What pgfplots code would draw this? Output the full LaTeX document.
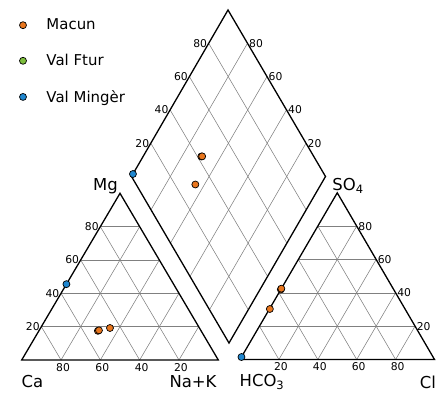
\documentclass[border=0pt]{standalone}
\usepackage{fontspec}
\setmainfont{DejaVu Sans}
\usepackage{pgfplots}
\usepackage{pgfplotstable}
\pgfplotsset{compat=1.18}
\definecolor{cOr}{HTML}{E8761E}
\definecolor{cGr}{HTML}{7DBE3C}
\definecolor{cBl}{HTML}{1F87D0}
\definecolor{cGrid}{HTML}{808080}
\tikzset{
  grid line/.style={cGrid, line width=0.55bp},
  frame line/.style={black, line width=1.3bp, line join=miter},
}

% samples: cations (Ca, Mg, Na+K) and anions (HCO3, Cl, SO4) in percent
\pgfplotstableread{
Ca Mg NaK HCO Cl SO
52.5 17.5 30.0 58.0 0.0 42.0
51.8 17.8 30.4 57.5 0.0 42.5
45.5 19.2 35.3 69.5 0.2 30.3
}\macun
\pgfplotstableread{
Ca Mg NaK HCO Cl SO
54.5 45.5 0.0 98.5 0.0 1.5
}\minger

% geometry
\def\cx{21.7}\def\cy{360}\def\cW{196.6}\def\cH{166.7}
\def\ax{240}\def\ay{359.5}\def\aW{194.5}\def\aH{166.7}

\newcommand\tickfont{\fontsize{10.8}{12}\selectfont}
\newcommand\labfont{\fontsize{16.5}{18}\selectfont}

\begin{document}
\begin{tikzpicture}
\begin{axis}[
  x=1bp, y=1bp, y dir=reverse,
  xmin=0, xmax=448, ymin=0, ymax=392,
  hide axis, clip=false,
  legend style={at={(axis cs:19.5,17)}, anchor=north west, draw=none, fill=none,
    font=\fontsize{15}{18}\selectfont, row sep=19bp, inner sep=0pt, outer sep=0pt,
    /tikz/every odd column/.style={column sep=18bp}},
  legend cell align=left,
  legend image code/.code={\draw[#1] plot coordinates {(0bp,0bp)};},
  mk/.style={only marks, mark=*, mark size=3.5bp, mark options={draw=black, line width=0.7bp, fill=#1}},
]
\path (axis cs:0,0) rectangle (axis cs:448,392);

% ---------- grids and tick labels ----------
\pgfplotsinvokeforeach{20,40,60,80}{
  % cation triangle
  \draw[grid line] (axis cs:{\cx+\cW*#1/200},{\cy-\cH*#1/100}) -- (axis cs:{\cx+\cW-\cW*#1/200},{\cy-\cH*#1/100});
  \draw[grid line] (axis cs:{\cx+\cW*(1-#1/100)},\cy) -- (axis cs:{\cx+\cW*(100-#1)/200},{\cy-\cH*(100-#1)/100});
  \draw[grid line] (axis cs:{\cx+\cW*#1/100},\cy) -- (axis cs:{\cx+\cW*(100+#1)/200},{\cy-\cH*(100-#1)/100});
  \node[anchor=east, font=\tickfont, inner sep=1.5bp] at (axis cs:{\cx+\cW*#1/200},{\cy-\cH*#1/100}) {#1};
  \node[anchor=north, font=\tickfont, inner sep=2bp] at (axis cs:{\cx+\cW*(1-#1/100)+2},{\cy+1}) {#1};
  % anion triangle
  \draw[grid line] (axis cs:{\ax+\aW*#1/200},{\ay-\aH*#1/100}) -- (axis cs:{\ax+\aW-\aW*#1/200},{\ay-\aH*#1/100});
  \draw[grid line] (axis cs:{\ax+\aW*#1/100},\ay) -- (axis cs:{\ax+\aW*(100+#1)/200},{\ay-\aH*(100-#1)/100});
  \draw[grid line] (axis cs:{\ax+\aW*(1-#1/100)},\ay) -- (axis cs:{\ax+\aW*(100-#1)/200},{\ay-\aH*(100-#1)/100});
  \node[anchor=west, font=\tickfont, inner sep=1.5bp] at (axis cs:{\ax+\aW-\aW*#1/200},{\ay-\aH*#1/100}) {#1};
  \node[anchor=north, font=\tickfont, inner sep=2bp] at (axis cs:{\ax+\aW*#1/100+2},{\ay+1}) {#1};
  % diamond
  \draw[grid line] (axis cs:{131.5+0.965*#1},{176.5-1.665*#1}) -- (axis cs:{229+0.965*#1},{343-1.665*#1});
  \draw[grid line] (axis cs:{131.5+0.975*#1},{176.5+1.665*#1}) -- (axis cs:{228+0.975*#1},{10+1.665*#1});
  \node[anchor=east, font=\tickfont, inner sep=1.5bp] at (axis cs:{131.5+0.965*#1},{176.5-1.665*#1}) {#1};
  \node[anchor=west, font=\tickfont, inner sep=1.5bp] at (axis cs:{325.5-0.975*#1},{176.5-1.665*#1}) {#1};
}

% frames
\draw[frame line] (axis cs:\cx,\cy) -- (axis cs:{\cx+\cW},\cy) -- (axis cs:{\cx+\cW/2},{\cy-\cH}) -- cycle;
\draw[frame line] (axis cs:\ax,\ay) -- (axis cs:{\ax+\aW},\ay) -- (axis cs:{\ax+\aW/2},{\ay-\aH}) -- cycle;
\draw[frame line] (axis cs:131.5,176.5) -- (axis cs:229,343) -- (axis cs:325.5,176.5) -- (axis cs:228,10) -- cycle;

% corner labels
\node[font=\labfont] at (axis cs:105.5,186) {Mg};
\node[font=\labfont] at (axis cs:32.5,382) {Ca};
\node[font=\labfont] at (axis cs:193,382) {Na+K};
\node[font=\labfont] at (axis cs:262,382) {HCO\textsubscript{3}};
\node[font=\labfont] at (axis cs:428,382) {Cl};
\node[font=\labfont] at (axis cs:348,186) {SO\textsubscript{4}};

% ---------- data ----------
\addplot[mk=cOr] table[x expr={\cx+\cW*(\thisrow{NaK}+\thisrow{Mg}/2)/100}, y expr={\cy-\cH*\thisrow{Mg}/100}]{\macun};
\addlegendentry{Macun}
\addlegendimage{mk=cGr}
\addlegendentry{Val Ftur}
\addplot[mk=cBl] table[x expr={\cx+\cW*(\thisrow{NaK}+\thisrow{Mg}/2)/100}, y expr={\cy-\cH*\thisrow{Mg}/100}]{\minger};
\addlegendentry{Val Mingèr}

\addplot[mk=cOr, forget plot] table[x expr={\ax+\aW*(\thisrow{Cl}+\thisrow{SO}/2)/100}, y expr={\ay-\aH*\thisrow{SO}/100}]{\macun};
\addplot[mk=cBl, forget plot] table[x expr={\ax+\aW*(\thisrow{Cl}+\thisrow{SO}/2)/100}, y expr={\ay-\aH*\thisrow{SO}/100}]{\minger};

\addplot[mk=cOr, forget plot] table[x expr={131.5+0.975*\thisrow{NaK}+0.965*(\thisrow{SO}+\thisrow{Cl})}, y expr={176.5+1.665*\thisrow{NaK}-1.665*(\thisrow{SO}+\thisrow{Cl})}]{\macun};
\addplot[mk=cBl, forget plot] table[x expr={131.5+0.975*\thisrow{NaK}+0.965*(\thisrow{SO}+\thisrow{Cl})}, y expr={176.5+1.665*\thisrow{NaK}-1.665*(\thisrow{SO}+\thisrow{Cl})}]{\minger};
\end{axis}
\end{tikzpicture}
\end{document}
